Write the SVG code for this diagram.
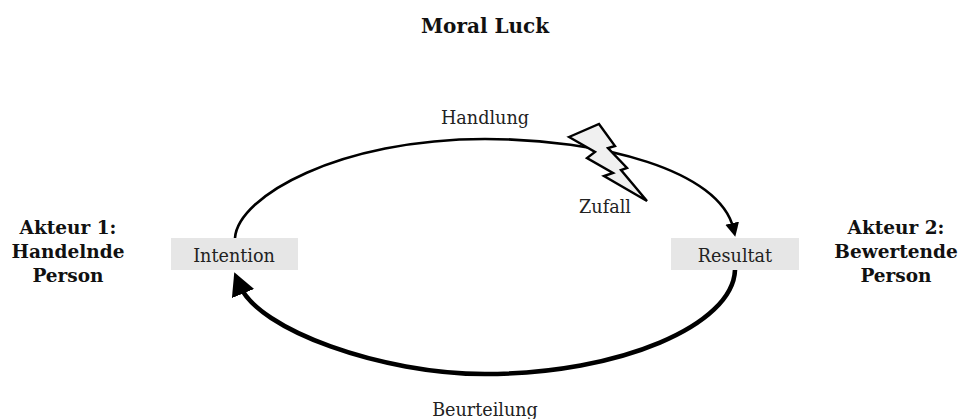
<svg xmlns="http://www.w3.org/2000/svg" width="962" height="419" viewBox="0 0 962 419">
<style>
text{font-family:"DejaVu Serif","Liberation Serif",serif;fill:#222;text-anchor:middle;font-size:17.6px}
.b{font-weight:bold;fill:#111;font-size:18.5px}
.t{font-size:20px}
.box{fill:#e6e6e6}
.c{fill:none;stroke:#000}
</style>
<defs>
<marker id="a1" markerUnits="userSpaceOnUse" markerWidth="15" markerHeight="15" refX="6" refY="7" orient="auto"><path d="M0,0L14,7L0,14Z" fill="#000"/></marker>
<marker id="a2" markerUnits="userSpaceOnUse" markerWidth="24" markerHeight="26" refX="9" refY="12" orient="auto"><path d="M0,0L23,12L0,24Z" fill="#000"/></marker>
</defs>
<rect width="962" height="419" fill="#fff"/>
<text class="b t" x="485" y="33">Moral Luck</text>
<g id="connectors">
<path class="c" stroke-width="2.6" marker-end="url(#a1)" d="M235,238C238,196 340,139 485,139C600,139 720,170 733.5,229"/>
<path class="c" stroke-width="4.6" marker-end="url(#a2)" d="M735,270C733,325 620,374 485,374C382,374 258,330 239.6,285.2"/>
</g>
<g id="intention"><rect class="box" x="171" y="238" width="127" height="32"/><text x="234" y="262">Intention</text></g>
<g id="resultat"><rect class="box" x="671" y="238" width="128" height="32"/><text x="735" y="262">Resultat</text></g>
<g id="blitz"><path d="M569,137L599,124L615,146L608,148L627,168L621,170L647,201L604,176L613,173L587,158L595,152Z" fill="#f0f0f0" stroke="#000" stroke-width="2.4"/></g>
<g id="handlung"><text x="485" y="124">Handlung</text></g>
<g id="zufall"><text x="605" y="213">Zufall</text></g>
<g id="beurteilung"><text x="485" y="416">Beurteilung</text></g>
<g id="akteur1"><text class="b" x="68" y="234">Akteur 1:</text><text class="b" x="68" y="258">Handelnde</text><text class="b" x="68" y="282">Person</text></g>
<g id="akteur2"><text class="b" x="896" y="234">Akteur 2:</text><text class="b" x="896" y="258">Bewertende</text><text class="b" x="896" y="282">Person</text></g>
</svg>
